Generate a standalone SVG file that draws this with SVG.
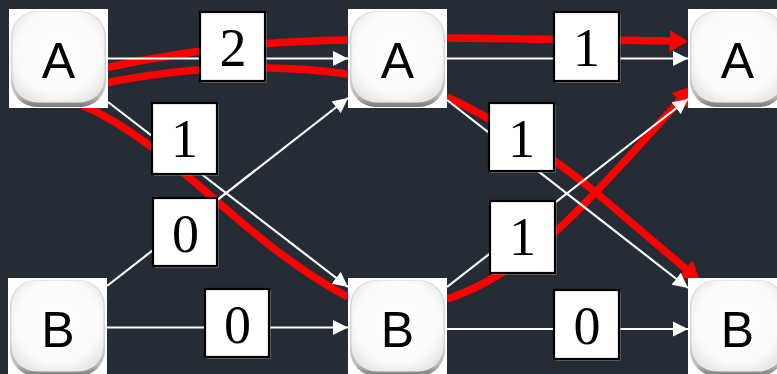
<svg xmlns="http://www.w3.org/2000/svg" width="777" height="374" viewBox="0 0 777 374">
<style>
.bg{fill:#252c35}
.sq{fill:#ffffff}
.bev{fill:url(#bev)}
.face{fill:url(#face)}
.nl{font-family:"Liberation Sans",Arial,sans-serif;font-size:50px;fill:#000;text-anchor:middle}
.lb{fill:#ffffff;stroke:#000;stroke-width:2.2}
.sh{fill:#9a9a9a}
.lt{font-family:"Liberation Serif","Times New Roman",serif;font-size:54px;fill:#000;text-anchor:middle}
.w{fill:none;stroke:#ffffff;stroke-width:2.2;marker-end:url(#wa)}
.r{fill:none;stroke:#ff0000;stroke-width:7.5}
.ra{marker-end:url(#ra)}
</style>
<defs>
<linearGradient id="bev" x1="0" y1="0" x2="0" y2="1">
<stop offset="0" stop-color="#d8d8d8"/>
<stop offset="0.6" stop-color="#d6d6d6"/>
<stop offset="0.88" stop-color="#bdbdbd"/>
<stop offset="1" stop-color="#767676"/>
</linearGradient>
<radialGradient id="face" cx="0.5" cy="0.45" r="0.6">
<stop offset="0" stop-color="#ffffff"/>
<stop offset="0.75" stop-color="#fbfbfb"/>
<stop offset="1" stop-color="#e8e8e8"/>
</radialGradient>
<marker id="wa" markerUnits="userSpaceOnUse" viewBox="0 -8 15 16" refX="15" refY="0" markerWidth="15" markerHeight="16" orient="auto">
<path d="M0,-7.5 L15,0 L0,7.5 z" fill="#ffffff"/>
</marker>
<marker id="ra" markerUnits="userSpaceOnUse" viewBox="0 -12 19 24" refX="0.5" refY="0" markerWidth="19" markerHeight="24" orient="auto">
<path d="M0,-11 L18.5,0 L0,11 z" fill="#ff0000"/>
</marker>
</defs>
<rect class="bg" x="0" y="0" width="777" height="374"/>

<g id="connectors">
<g id="red-paths">
<path class="r" d="M100,69 Q228,41 348,40"/>
<path class="r" d="M100,84 Q228,57.5 348,74"/>
<path class="r" d="M80,104 C175,145 240,240 348,297"/>
<path class="r ra" d="M447,38 L670,41"/>
<path class="r ra" d="M447,97 C490,117 550,154 600,196 L686,269"/>
<path class="r ra" d="M447,299 C485,287 525,260 555,232 C585,206 640,145 680,100"/>
</g>
<g id="white-edges">
<path class="w" d="M108,58.5 L348,58.5"/>
<path class="w" d="M108,102 L348,287"/>
<path class="w" d="M107,286 L348,98"/>
<path class="w" d="M107,327.5 L348,327.5"/>
<path class="w" d="M447,58.5 L688,58.5"/>
<path class="w" d="M447,100 L688,288"/>
<path class="w" d="M447,287 L688,99"/>
<path class="w" d="M447,329 L688,329"/>
</g>
</g>

<g id="labels">
<g id="l-a1a2"><rect class="sh" x="201.5" y="13.5" width="65" height="69"/><rect class="lb" x="200" y="12" width="65" height="69"/><text class="lt" x="233" y="65.5">2</text></g>
<g id="l-a1b2"><rect class="sh" x="153.5" y="104.5" width="65" height="71"/><rect class="lb" x="152" y="103" width="65" height="71"/><text class="lt" x="184.5" y="157">1</text></g>
<g id="l-b1a2"><rect class="sh" x="154.5" y="199.5" width="64" height="68"/><rect class="lb" x="153" y="198" width="64" height="68"/><text class="lt" x="185.5" y="251.5">0</text></g>
<g id="l-b1b2"><rect class="sh" x="206.5" y="290.5" width="64" height="68"/><rect class="lb" x="205" y="289" width="64" height="68"/><text class="lt" x="237.5" y="343">0</text></g>
<g id="l-a2a3"><rect class="sh" x="555.5" y="13.5" width="65" height="69"/><rect class="lb" x="554" y="12" width="65" height="69"/><text class="lt" x="586.5" y="66">1</text></g>
<g id="l-a2b3"><rect class="sh" x="490.5" y="104.5" width="65" height="68"/><rect class="lb" x="489" y="103" width="65" height="68"/><text class="lt" x="521.5" y="156.5">1</text></g>
<g id="l-b2a3"><rect class="sh" x="491.5" y="202.5" width="65" height="72"/><rect class="lb" x="490" y="201" width="65" height="72"/><text class="lt" x="522.5" y="255">1</text></g>
<g id="l-b2b3"><rect class="sh" x="555.5" y="291.5" width="65" height="69"/><rect class="lb" x="554" y="290" width="65" height="69"/><text class="lt" x="587" y="343.5">0</text></g>
</g>

<g id="nA1" transform="translate(9,9)">
<rect class="sq" width="99" height="99"/>
<rect class="bev" x="2" y="2" width="95" height="96" rx="26"/>
<rect class="face" x="3.5" y="2.5" width="92" height="91" rx="25"/>
<text class="nl" x="49.5" y="68.7">A</text>
</g>
<g id="nA2" transform="translate(348,9)">
<rect class="sq" width="99" height="99"/>
<rect class="bev" x="2" y="2" width="95" height="96" rx="26"/>
<rect class="face" x="3.5" y="2.5" width="92" height="91" rx="25"/>
<text class="nl" x="49.5" y="68.7">A</text>
</g>
<g id="nA3" transform="translate(688,9)">
<rect class="sq" width="99" height="99"/>
<rect class="bev" x="2" y="2" width="95" height="96" rx="26"/>
<rect class="face" x="3.5" y="2.5" width="92" height="91" rx="25"/>
<text class="nl" x="49.5" y="68.7">A</text>
</g>
<g id="nB1" transform="translate(8,278)">
<rect class="sq" width="99" height="99"/>
<rect class="bev" x="2" y="2" width="95" height="96" rx="26"/>
<rect class="face" x="3.5" y="2.5" width="92" height="91" rx="25"/>
<text class="nl" x="50" y="69">B</text>
</g>
<g id="nB2" transform="translate(348,278)">
<rect class="sq" width="99" height="99"/>
<rect class="bev" x="2" y="2" width="95" height="96" rx="26"/>
<rect class="face" x="3.5" y="2.5" width="92" height="91" rx="25"/>
<text class="nl" x="49.5" y="69">B</text>
</g>
<g id="nB3" transform="translate(688,278)">
<rect class="sq" width="99" height="99"/>
<rect class="bev" x="2" y="2" width="95" height="96" rx="26"/>
<rect class="face" x="3.5" y="2.5" width="92" height="91" rx="25"/>
<text class="nl" x="49.5" y="69">B</text>
</g>
</svg>
